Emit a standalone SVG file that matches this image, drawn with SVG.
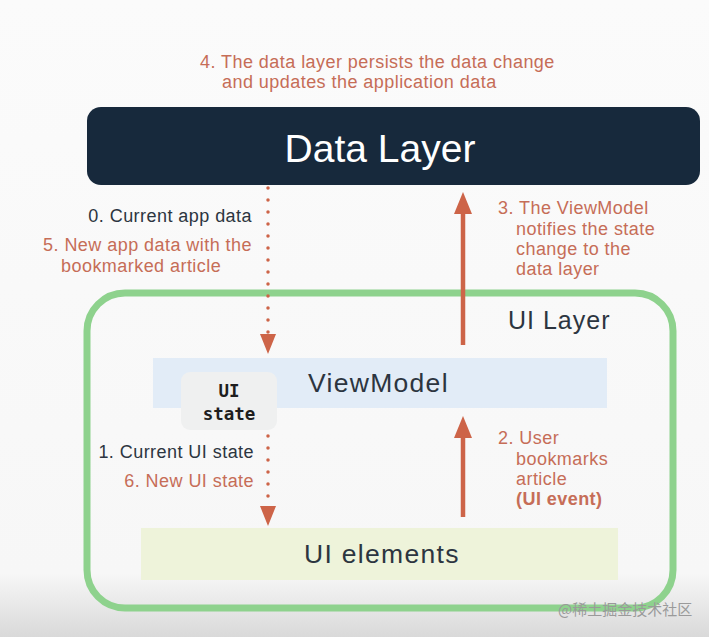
<svg xmlns="http://www.w3.org/2000/svg" width="709" height="637" viewBox="0 0 709 637">
<defs>
<linearGradient id="bg" x1="0" y1="0" x2="0" y2="1">
<stop offset="0" stop-color="#fbfbfb"/>
<stop offset="0.9" stop-color="#f7f7f7"/>
<stop offset="1" stop-color="#d9d9d9"/>
</linearGradient>
<style>
.t{font-family:"Liberation Sans",Arial,sans-serif;font-size:18px;letter-spacing:0.45px}
.o{fill:#c66d57}
.d{fill:#2c3540}
.big{font-family:"Liberation Sans",Arial,sans-serif;font-size:26.5px;letter-spacing:1.3px;fill:#2c3540}
.mono{font-family:"DejaVu Sans Mono","Liberation Mono",monospace;font-weight:bold;font-size:17.5px;fill:#1e1e1e}
.dots{stroke:#cd6448;stroke-width:3.5;stroke-linecap:round;stroke-dasharray:0 12;fill:none}
.solid{stroke:#cd6448;stroke-width:4.5;fill:none}
.tri{fill:#cd6448}
</style>
</defs>
<rect x="0" y="0" width="709" height="637" fill="url(#bg)"/>

<text class="t o" x="200" y="68">4. The data layer persists the data change</text>
<text class="t o" x="222" y="88">and updates the application data</text>

<g id="data-layer">
<rect x="87" y="107" width="613" height="78" rx="14" fill="#17293c"/>
<text x="380" y="162" text-anchor="middle" font-family="Liberation Sans, Arial, sans-serif" font-size="39" fill="#ffffff">Data Layer</text>
</g>

<g id="ui-layer">
<rect x="87" y="293" width="586" height="315" rx="38" fill="none" stroke="#8ed28d" stroke-width="7"/>
<text x="508" y="329" font-family="Liberation Sans, Arial, sans-serif" font-size="25" letter-spacing="1" fill="#2c3540">UI Layer</text>
</g>

<g id="viewmodel">
<rect x="153" y="358" width="454" height="50" fill="#e2ecf7"/>
<text class="big" x="308" y="392">ViewModel</text>
</g>

<g id="ui-state">
<rect x="181" y="372" width="96" height="58" rx="9" fill="#eff0f0"/>
<text class="mono" x="229" y="397" text-anchor="middle">UI</text>
<text class="mono" x="229" y="420" text-anchor="middle">state</text>
</g>

<g id="ui-elements">
<rect x="141" y="528" width="477" height="52" fill="#eef3da"/>
<text class="big" x="304" y="563">UI elements</text>
</g>

<g id="connectors">
<line class="dots" x1="268" y1="188" x2="268" y2="338"/>
<path class="tri" d="M260,334 L276,334 L268,354 z"/>
<line class="dots" x1="268" y1="436" x2="268" y2="506"/>
<path class="tri" d="M260,506 L276,506 L268,526 z"/>
<line class="solid" x1="463" y1="345" x2="463" y2="210"/>
<path class="tri" d="M454,214 L463,192 L472,214 z"/>
<line class="solid" x1="463" y1="517" x2="463" y2="432"/>
<path class="tri" d="M454,438 L463,416 L472,438 z"/>
</g>

<text class="t d" x="252" y="222" text-anchor="end">0. Current app data</text>
<text class="t o" x="252" y="251" text-anchor="end">5. New app data with the</text>
<text class="t o" x="61" y="272">bookmarked article</text>

<text class="t o" x="498" y="214">3. The ViewModel</text>
<text class="t o" x="516" y="235">notifies the state</text>
<text class="t o" x="516" y="255">change to the</text>
<text class="t o" x="516" y="275">data layer</text>

<text class="t d" x="254" y="458" text-anchor="end">1. Current UI state</text>
<text class="t o" x="254" y="487" text-anchor="end">6. New UI state</text>

<text class="t o" x="498" y="444">2. User</text>
<text class="t o" x="516" y="465">bookmarks</text>
<text class="t o" x="516" y="485">article</text>
<text class="t o" x="516" y="505" font-weight="bold">(UI event)</text>

<text x="558" y="615" font-family="Noto Sans CJK SC, sans-serif" font-size="15" fill="#9a9a9a">@稀土掘金技术社区</text>
</svg>
